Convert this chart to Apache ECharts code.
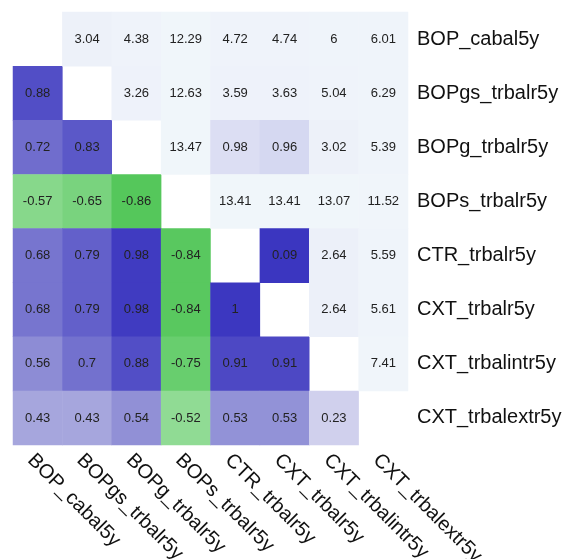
<!DOCTYPE html>
<html>
<head>
<meta charset="utf-8">
<script src="https://cdn.jsdelivr.net/npm/echarts@6/dist/echarts.min.js"></script>
<style>html,body{margin:0;padding:0;background:#fff}#c{width:563px;height:559px}</style>
</head>
<body>
<div id="c"></div>
<script>
const variables = ['BOP_cabal5y','BOPgs_trbalr5y','BOPg_trbalr5y','BOPs_trbalr5y','CTR_trbalr5y','CXT_trbalr5y','CXT_trbalintr5y','CXT_trbalextr5y'];
// matrix rows (top to bottom); null on the diagonal
const row0 = [null, 3.04, 4.38, 12.29, 4.72, 4.74, 6, 6.01];
const row1 = [0.88, null, 3.26, 12.63, 3.59, 3.63, 5.04, 6.29];
const row2 = [0.72, 0.83, null, 13.47, 0.98, 0.96, 3.02, 5.39];
const row3 = [-0.57, -0.65, -0.86, null, 13.41, 13.41, 13.07, 11.52];
const row4 = [0.68, 0.79, 0.98, -0.84, null, 0.09, 2.64, 5.59];
const row5 = [0.68, 0.79, 0.98, -0.84, 1, null, 2.64, 5.61];
const row6 = [0.56, 0.7, 0.88, -0.75, 0.91, 0.91, null, 7.41];
const row7 = [0.43, 0.43, 0.54, -0.52, 0.53, 0.53, 0.23, null];
const matrix = [row0,row1,row2,row3,row4,row5,row6,row7];

const lower = [], upper = [];
matrix.forEach((row, r) => row.forEach((v, c) => {
  if (v === null) return;
  if (c < r) lower.push([c, r, v]); else upper.push([c, r, v]);
}));

// colour stops for the upper triangle, every 0.5 units from 0 to 14
const upperStops = ['#3a35bf','#423dc2','#e2e5f5','#e7ebf7','#eaeef8','#ecf0f9','#edf1f9','#eef2fa','#eef2fa','#eff3fa','#eff3fa','#eff4fa','#eff4fa','#eff4fa','#f0f5fa','#f0f5fa','#f0f5fa','#f0f5fa','#f0f5fa','#f0f5fa','#f0f5fa','#f0f5fa','#f0f5fa','#f0f5fa','#f0f6fa','#f0f6fa','#f0f6fa','#f0f6fa','#f0f6fa'];

const chart = echarts.init(document.getElementById('c'), null, {renderer:'canvas'});
const labelStyle = {show:true, color:'#222', fontSize:13, fontFamily:'Liberation Sans', formatter: p => String(p.value[2])};
chart.setOption({
  backgroundColor:'#fff',
  animation:false,
  grid:{left:13, top:12, width:395, height:433, outerBoundsMode:'none', containLabel:false},
  xAxis:{type:'category', data:variables, position:'bottom',
    axisLine:{show:false}, axisTick:{show:false}, splitArea:{show:false},
    axisLabel:{rotate:-45, margin:5, align:'left', verticalAlign:'top', fontSize:20, color:'#111', fontFamily:'Liberation Sans', interval:0}},
  yAxis:{type:'category', data:variables, position:'right', inverse:true,
    axisLine:{show:false}, axisTick:{show:false}, splitArea:{show:false},
    axisLabel:{margin:9, fontSize:20, color:'#111', fontFamily:'Liberation Sans', interval:0}},
  visualMap:[
    {show:false, type:'continuous', seriesIndex:0, min:-1, max:1,
     inRange:{color:['#3dbf44','#93dc97','#ffffff','#9898d8','#3c37c0']}},
    {show:false, type:'continuous', seriesIndex:1, min:0, max:14,
     inRange:{color:upperStops}}
  ],
  series:[
    {type:'heatmap', data:lower, label:labelStyle, itemStyle:{borderWidth:0}, emphasis:{disabled:true}},
    {type:'heatmap', data:upper, label:labelStyle, itemStyle:{borderWidth:0}, emphasis:{disabled:true}}
  ]
});
</script>
</body>
</html>
